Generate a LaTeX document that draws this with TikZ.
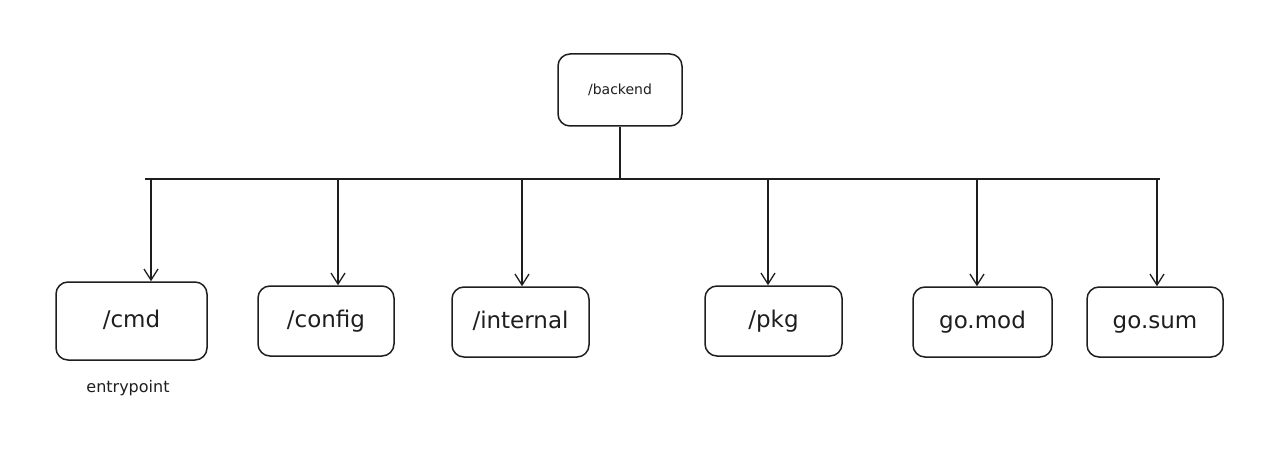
\documentclass[tikz,border=0pt]{standalone}
\usepackage{fontspec}
\setmainfont{DejaVu Sans}
\usetikzlibrary{arrows.meta}
\definecolor{ink}{HTML}{1E1E1E}
\tikzset{
  box/.style={draw=ink, line width=1.5pt, rounded corners=12pt, inner sep=0pt, text=ink,
    text height=1.45em, text depth=0.15em, font=\fontsize{23}{27}\selectfont},
  conn/.style={draw=ink, line width=1.5pt},
  arr/.style={conn, -{Straight Barb[length=11pt,width=14pt,line width=1.3pt]}},
}
\begin{document}
\begin{tikzpicture}[x=1pt,y=-1pt]
\useasboundingbox (0,0) rectangle (1277,468);
% top node
\node[box, minimum width=124pt, minimum height=72pt, font=\fontsize{14}{16}\selectfont,
  text height=1.05em, text depth=0.18em] (backend) at (620,90) {/backend};
% children
\node[box, minimum width=151pt, minimum height=78pt] (cmd) at (131.5,321) {/cmd};
\node[box, minimum width=136pt, minimum height=70pt] (config) at (326,321) {/config};
\node[box, minimum width=137pt, minimum height=70pt] (internal) at (520.5,322) {/internal};
\node[box, minimum width=137pt, minimum height=70pt] (pkg) at (773.5,321) {/pkg};
\node[box, minimum width=139pt, minimum height=70pt] (gomod) at (982.5,322) {go.mod};
\node[box, minimum width=136pt, minimum height=70pt] (gosum) at (1155,322) {go.sum};
\node[text=ink, font=\fontsize{16}{18}\selectfont] (entry) at (128,388) {entrypoint};
% bus
\coordinate (busL) at (145,179);
\coordinate (busR) at (1160,179);
\draw[conn] (busL) -- (busR);
\draw[conn] (backend.south) -- (backend.south |- busL);
% bus taps
\coordinate (t1) at (151,179);
\coordinate (t2) at (338,179);
\coordinate (t3) at (522,179);
\coordinate (t4) at (768,179);
\coordinate (t5) at (977,179);
\coordinate (t6) at (1157,179);
\draw[arr] (t1) -- (t1 |- cmd.north);
\draw[arr] (t2) -- (t2 |- config.north);
\draw[arr] (t3) -- (t3 |- internal.north);
\draw[arr] (t4) -- (t4 |- pkg.north);
\draw[arr] (t5) -- (t5 |- gomod.north);
\draw[arr] (t6) -- (t6 |- gosum.north);
\end{tikzpicture}
\end{document}
